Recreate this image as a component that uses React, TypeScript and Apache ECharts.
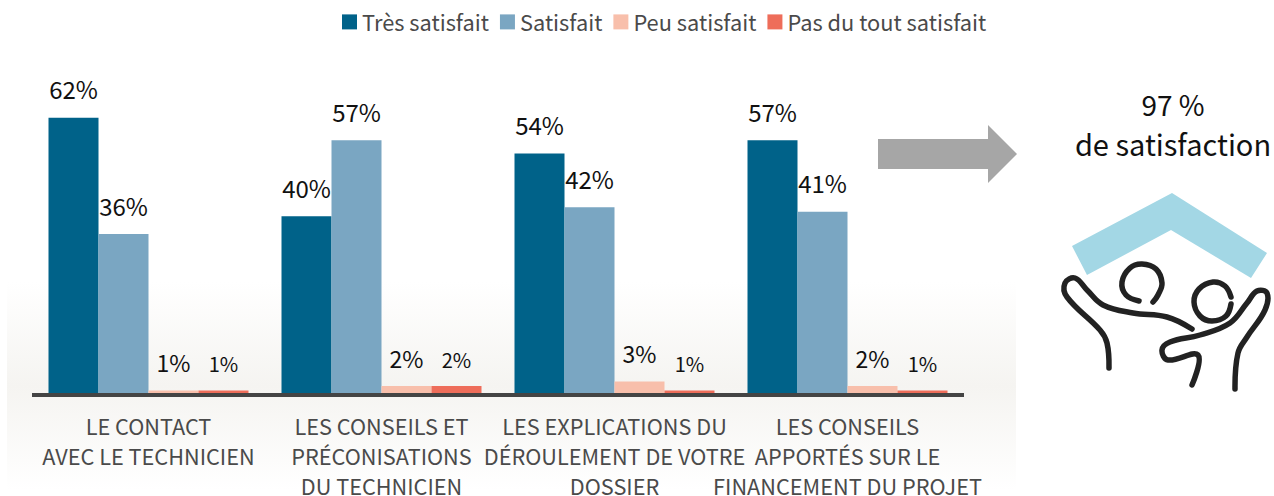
import React, { useEffect, useRef } from "react";
import * as echarts from "echarts";

const categories = [
  "LE CONTACT\nAVEC LE TECHNICIEN",
  "LES CONSEILS ET\nPRÉCONISATIONS\nDU TECHNICIEN",
  "LES EXPLICATIONS DU\nDÉROULEMENT DE VOTRE\nDOSSIER",
  "LES CONSEILS\nAPPORTÉS SUR LE\nFINANCEMENT DU PROJET",
];
const tresSatisfait = [62, 40, 54, 57];
const satisfait = [36, 57, 42, 41];
const peuSatisfait = [1, 2, 3, 2];
const pasDuTout = [1, 2, 1, 1];
const seriesNames = ["Très satisfait", "Satisfait", "Peu satisfait", "Pas du tout satisfait"];
const seriesColors = ["#006289", "#7aa6c2", "#f8bfab", "#ee6d5a"];
const labelSizes = [24, 24, 23, 20];
const FONT = '"Noto Sans CJK JP", "Noto Sans", sans-serif';

const roof = [[1072, 246], [1172, 193], [1267, 253], [1251, 278], [1171, 230], [1087, 275]];
const strokes = [
  [[1139, 301], [1126, 295], [1122, 282], [1130, 268], [1142, 264], [1156, 269], [1162, 283], [1158, 295], [1153, 302]],
  [[1109, 368], [1107, 343], [1100, 330], [1067, 297], [1065, 283], [1075, 278], [1087, 290], [1103, 305], [1133, 313], [1167, 317], [1192, 329]],
  [[1231, 297], [1225, 286], [1213, 282], [1199, 289], [1194, 302], [1200, 316], [1212, 321], [1226, 316], [1231, 304]],
  [[1235, 389], [1238, 353], [1247, 337], [1265, 310], [1267, 293], [1257, 291], [1247, 303], [1230, 323], [1200, 335], [1170, 342], [1162, 350], [1168, 360], [1198, 355], [1192, 385]],
];

export default function App() {
  const ref = useRef<HTMLDivElement>(null);
  useEffect(() => {
    document.body.style.margin = "0";
    const chart = echarts.init(ref.current!, null, { renderer: "svg" });
    const data = [tresSatisfait, satisfait, peuSatisfait, pasDuTout];
    chart.setOption({
      animation: false,
      backgroundColor: "#ffffff",
      textStyle: { fontFamily: FONT },
      legend: {
        left: 342,
        top: 11,
        padding: 0,
        icon: "rect",
        itemWidth: 15,
        itemHeight: 15,
        itemGap: 11,
        selectedMode: false,
        textStyle: { fontFamily: FONT, fontSize: 21.8, color: "#4a4a4a" },
        data: seriesNames,
      },
      grid: { left: 32, width: 932, top: 82, height: 313, outerBoundsMode: "none" },
      xAxis: {
        type: "category",
        data: categories,
        z: 3,
        axisLine: { lineStyle: { color: "#444444", width: 4, cap: "butt" } },
        axisTick: { show: false },
        axisLabel: {
          interval: 0,
          hideOverlap: false,
          fontFamily: FONT,
          fontSize: 21.7,
          lineHeight: 30,
          color: "#4a4a4a",
          margin: 15,
          verticalAlign: "top",
        },
      },
      yAxis: { type: "value", min: 0, max: 70, show: false, splitLine: { show: false } },
      series: seriesNames.map((name, i) => ({
        name,
        type: "bar",
        data: data[i],
        barWidth: 50,
        barGap: "0%",
        itemStyle: { color: seriesColors[i] },
        label: {
          show: true,
          position: "top",
          distance: 17,
          formatter: "{c}%",
          fontFamily: FONT,
          fontSize: labelSizes[i],
          color: "#111111",
        },
      })),
      graphic: [
        {
          type: "rect",
          z: -10,
          shape: { x: 7, y: 282, width: 1009, height: 208 },
          style: {
            fill: new echarts.graphic.LinearGradient(0, 0, 0, 1, [
              { offset: 0, color: "#ffffff" },
              { offset: 0.5, color: "#f5f4f1" },
              { offset: 1, color: "#ffffff" },
            ]),
          },
        },
        {
          type: "polygon",
          shape: { points: [[878, 139], [988, 139], [988, 125], [1017, 154], [988, 183], [988, 169], [878, 169]] },
          style: { fill: "#a6a6a6" },
        },
        {
          type: "text",
          x: 1173,
          y: 104,
          style: { text: "97 %", fontFamily: FONT, fontSize: 28, fill: "#111111", align: "center", verticalAlign: "middle" },
        },
        {
          type: "text",
          x: 1173,
          y: 143,
          style: { text: "de satisfaction", fontFamily: FONT, fontSize: 29, fill: "#111111", align: "center", verticalAlign: "middle" },
        },
        { type: "polygon", shape: { points: roof }, style: { fill: "#a3d7e5" } },
        ...strokes.map((points) => ({
          type: "polyline",
          shape: { points, smooth: 0.4 },
          style: { stroke: "#222222", lineWidth: 5.5, lineCap: "round", lineJoin: "round", fill: "none" },
        })),
      ],
    });
    return () => chart.dispose();
  }, []);
  return <div ref={ref} style={{ position: "absolute", left: 0, top: 0, width: 1274, height: 496 }} />;
}
